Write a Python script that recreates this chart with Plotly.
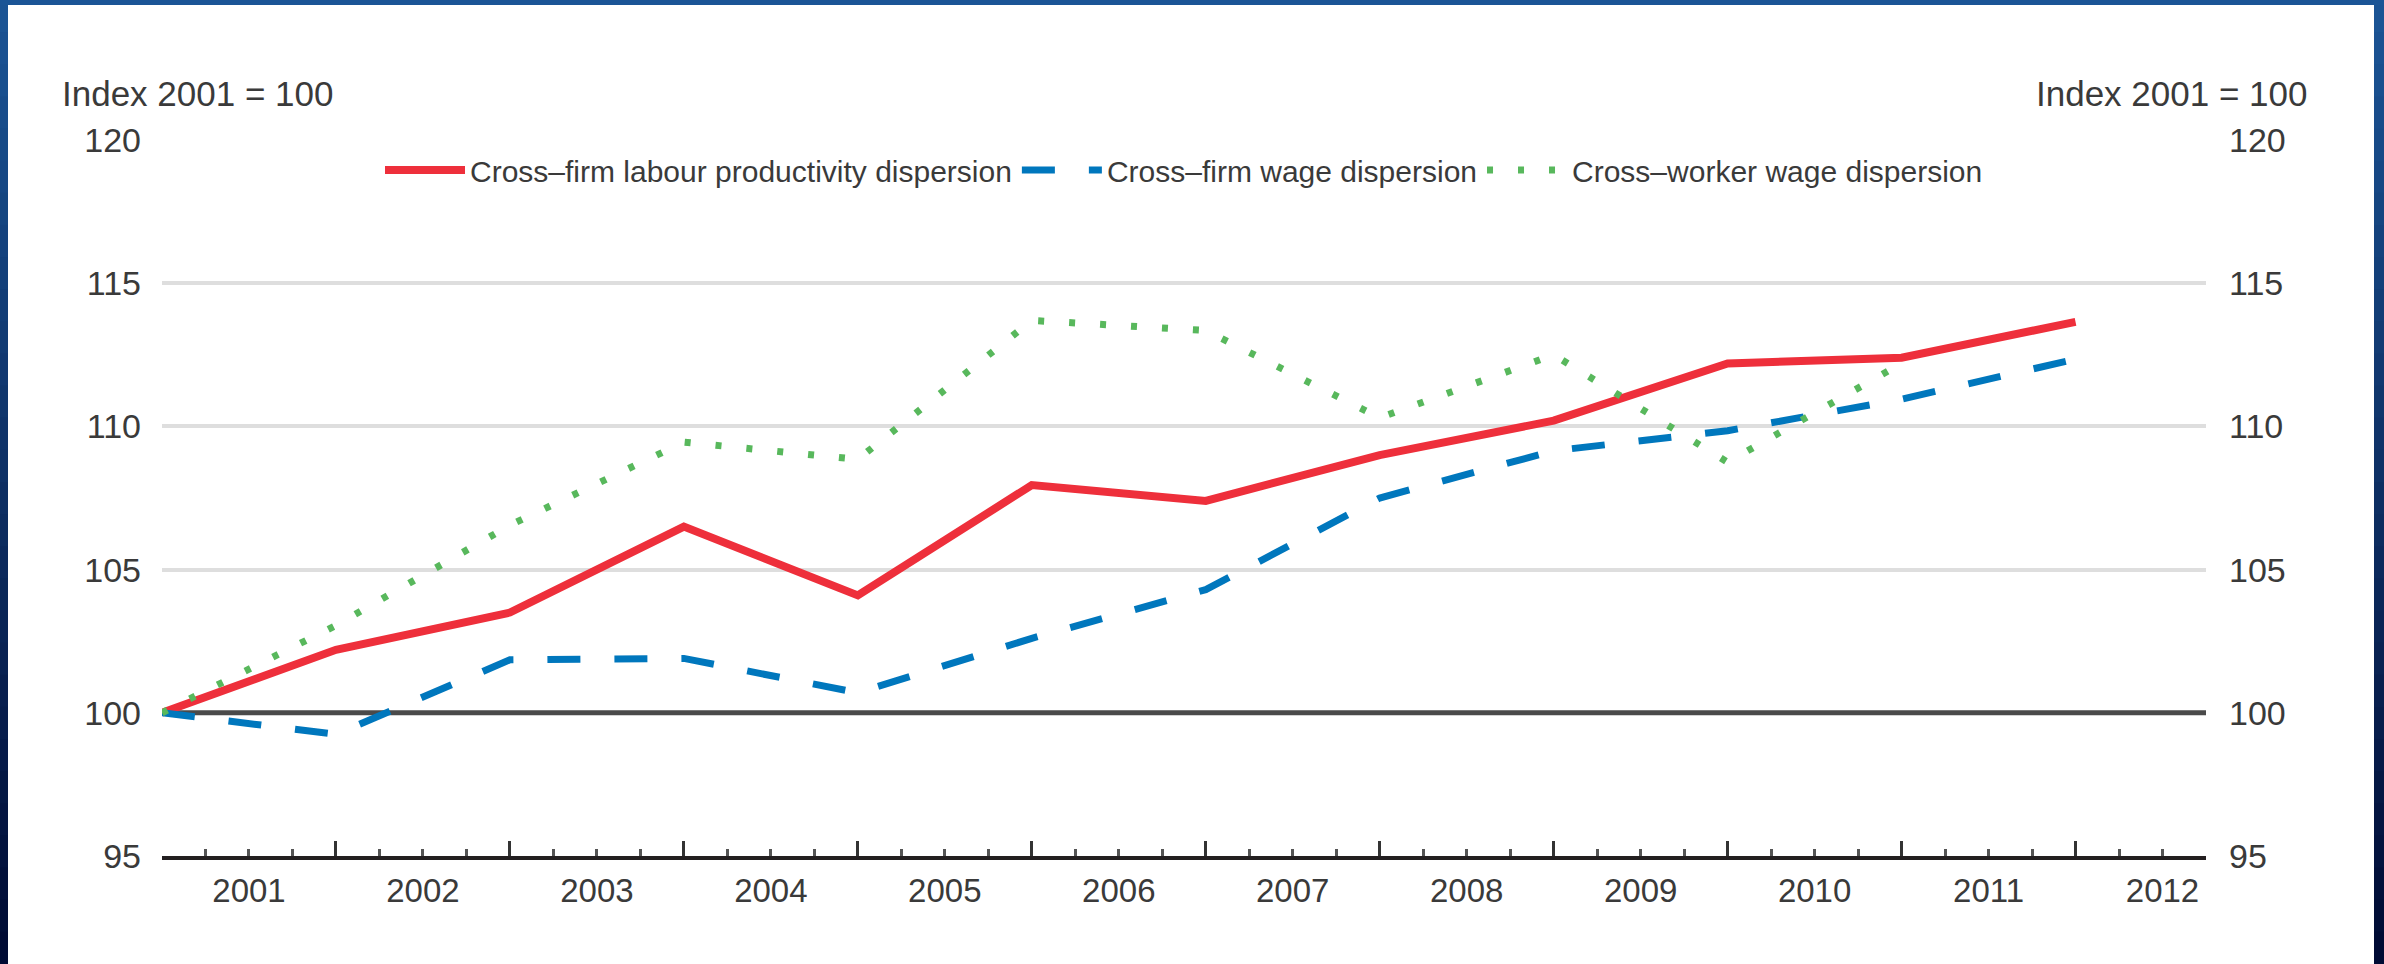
import plotly.graph_objects as go

# ---------------- data ----------------
years = [2001, 2002, 2003, 2004, 2005, 2006, 2007, 2008, 2009, 2010, 2011, 2012]
year_labels = ["2001", "2002", "2003", "2004", "2005", "2006",
               "2007", "2008", "2009", "2010", "2011", "2012"]
labour_productivity = [100.0, 102.2, 103.5, 106.5, 104.1, 107.95,
                       107.4, 109.0, 110.2, 112.2, 112.4, 113.65]
firm_wage = [100.0, 99.25, 101.85, 101.9, 100.7, 102.6,
             104.3, 107.5, 109.15, 109.85, 110.95, 112.35]
worker_years = [2001, 2002, 2003, 2004, 2005, 2006, 2007, 2008, 2009, 2010, 2011]
worker_wage = [100.0, 103.05, 106.55, 109.45, 108.85, 113.7,
               113.35, 110.3, 112.5, 108.75, 112.2]
y_ticks = [95, 100, 105, 110, 115, 120]
grid_vals = [105, 110, 115, 120]
baseline = 100
axis_title = "Index 2001 = 100"
names = ["Cross\u2013firm labour productivity dispersion",
         "Cross\u2013firm wage dispersion",
         "Cross\u2013worker wage dispersion"]

# ---------------- style ----------------
W, H = 2384, 964
ML, MR, MT, MB = 162, 178, 140, 108
PW, PH = W - ML - MR, H - MT - MB
FONT = "Liberation Sans, Arial, sans-serif"
TXT = "#3a3a3a"
RED, BLUE, GREEN = "#EE2F3B", "#0077BD", "#58B85C"
X_RANGE = [2001, 2012.75]
Y_RANGE = [95, 120]


def px_x(px):
    return (px - ML) / PW


def px_y(py):
    return (H - MB - py) / PH


fig = go.Figure()
fig.add_trace(go.Scatter(x=years, y=labour_productivity, name=names[0], mode="lines",
                         line=dict(color=RED, width=8)))
fig.add_trace(go.Scatter(x=years, y=firm_wage, name=names[1], mode="lines",
                         line=dict(color=BLUE, width=7, dash="33px,34px")))
# drawn on the overlaying (identical-range) axes so the right/bottom label axes are active
fig.add_trace(go.Scatter(x=worker_years, y=worker_wage, name=names[2], mode="lines",
                         xaxis="x2", yaxis="y2",
                         line=dict(color=GREEN, width=7, dash="6px,25px")))

shapes = []
# reference line at 100
shapes.append(dict(type="line", xref="paper", x0=0, x1=1, yref="y", y0=baseline, y1=baseline,
                   line=dict(color="#4a4a4a", width=5), layer="between"))

# frame (vertical gradient dark blue)
top_c = (27, 85, 150)
bot_c = (0, 10, 50)
n = 30
for i in range(n):
    t = (i + 0.5) / n
    c = tuple(int(round(top_c[k] + (bot_c[k] - top_c[k]) * t)) for k in range(3))
    col = "rgb(%d,%d,%d)" % c
    y_top = i * H / n
    y_bot = (i + 1) * H / n + 1
    for xa, xb in [(-20, 8), (2374, W + 20)]:
        shapes.append(dict(type="rect", xref="paper", yref="paper",
                           x0=px_x(xa), x1=px_x(xb), y0=px_y(y_bot), y1=px_y(y_top),
                           fillcolor=col, line=dict(width=0), layer="above"))
shapes.append(dict(type="rect", xref="paper", yref="paper",
                   x0=px_x(-20), x1=px_x(W + 20), y0=px_y(5), y1=px_y(-20),
                   fillcolor="rgb(27,85,150)", line=dict(width=0), layer="above"))

annotations = [
    dict(text=axis_title, xref="paper", yref="paper", x=px_x(60), y=px_y(93),
         xanchor="left", yanchor="middle", showarrow=False,
         font=dict(family=FONT, size=35, color=TXT)),
    dict(text=axis_title, xref="paper", yref="paper", x=px_x(2310), y=px_y(93),
         xanchor="right", yanchor="middle", showarrow=False,
         font=dict(family=FONT, size=35, color=TXT)),
]

fig.update_layout(
    width=W, height=H,
    margin=dict(l=ML, r=MR, t=MT, b=MB, pad=0),
    paper_bgcolor="white", plot_bgcolor="white",
    font=dict(family=FONT, color=TXT),
    showlegend=True,
    legend=dict(orientation="h", x=0.5, xanchor="center", y=px_y(170), yanchor="middle",
                font=dict(family=FONT, size=30, color=TXT), bgcolor="rgba(0,0,0,0)",
                itemwidth=80, tracegroupgap=0),
    xaxis=dict(range=X_RANGE, tickmode="array", tickvals=years, showticklabels=False,
               ticks="inside", ticklen=15, tickwidth=3, tickcolor="#333333",
               showgrid=False, zeroline=False,
               showline=True, linecolor="#231f20", linewidth=4,
               minor=dict(tickmode="linear", tick0=2001, dtick=0.25, ticks="inside",
                          ticklen=7, tickwidth=3, tickcolor="#555555", showgrid=False)),
    xaxis2=dict(range=X_RANGE, overlaying="x", anchor="y2", side="bottom",
                tickmode="array", tickvals=[y + 0.5 for y in years], ticktext=year_labels,
                ticks="", showgrid=False, zeroline=False, showline=False,
                ticklabelstandoff=12,
                tickfont=dict(family=FONT, size=33, color=TXT)),
    yaxis=dict(range=Y_RANGE, tickmode="array", tickvals=y_ticks, ticks="",
               showgrid=False, zeroline=False,
               showline=False, ticklabelstandoff=20,
               tickfont=dict(family=FONT, size=34, color=TXT),
               minor=dict(tickmode="array", tickvals=grid_vals, ticks="",
                          showgrid=True, gridcolor="#dedede", gridwidth=4)),
    yaxis2=dict(range=Y_RANGE, overlaying="y", side="right", anchor="x2",
                tickmode="array", tickvals=y_ticks, ticks="", showgrid=False,
                zeroline=False, showline=False, ticklabelstandoff=22,
                tickfont=dict(family=FONT, size=34, color=TXT)),
    shapes=shapes,
    annotations=annotations,
)

fig.write_html("out.html", config={"displayModeBar": False},
               post_script="document.body.style.margin='0';document.body.style.padding='0';"
                           "document.documentElement.style.overflow='hidden';")
